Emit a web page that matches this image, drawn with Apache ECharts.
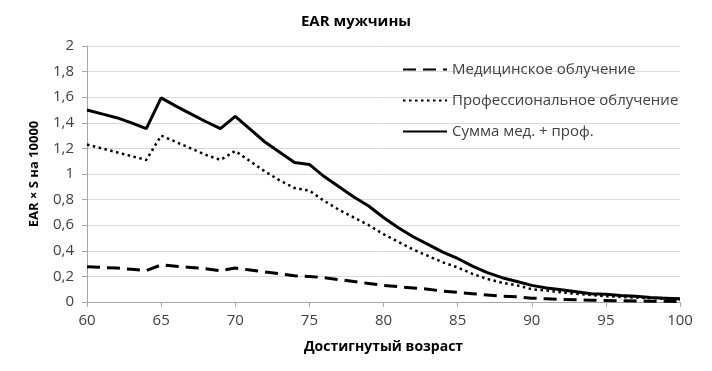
<!DOCTYPE html>
<html>
<head>
<meta charset="utf-8">
<script src="https://cdn.jsdelivr.net/npm/echarts@6/dist/echarts.min.js"></script>
<style>
  html, body { margin: 0; padding: 0; background: #fff; }
  #chart { width: 712px; height: 371px; }
</style>
</head>
<body>
<div id="chart"></div>
<script>
const ages = [60, 61, 62, 63, 64, 65, 66, 67, 68, 69, 70, 71, 72, 73, 74, 75, 76, 77, 78, 79, 80,
  81, 82, 83, 84, 85, 86, 87, 88, 89, 90, 91, 92, 93, 94, 95, 96, 97, 98, 99, 100]
const medValues = [0.275, 0.27, 0.265, 0.255, 0.245, 0.29, 0.28, 0.27, 0.26, 0.245, 0.265,
  0.25, 0.235, 0.22, 0.205, 0.2, 0.19, 0.175, 0.16, 0.145, 0.13,
  0.12, 0.11, 0.1, 0.085, 0.075, 0.065, 0.055, 0.045, 0.04, 0.03,
  0.025, 0.02, 0.017, 0.014, 0.012, 0.01, 0.008, 0.006, 0.005, 0.004]
const profValues = [1.23, 1.2, 1.17, 1.14, 1.11, 1.3, 1.25, 1.2, 1.15, 1.11, 1.18,
  1.1, 1.02, 0.95, 0.89, 0.87, 0.79, 0.72, 0.66, 0.6, 0.53,
  0.47, 0.41, 0.36, 0.31, 0.27, 0.22, 0.18, 0.15, 0.13, 0.1,
  0.09, 0.075, 0.065, 0.055, 0.045, 0.04, 0.035, 0.03, 0.025, 0.02]
const sumValues = [1.5, 1.47, 1.44, 1.4, 1.355, 1.595, 1.53, 1.47, 1.41, 1.355, 1.45,
  1.35, 1.25, 1.17, 1.09, 1.075, 0.98, 0.9, 0.82, 0.75, 0.66,
  0.58, 0.51, 0.45, 0.39, 0.34, 0.28, 0.23, 0.19, 0.16, 0.13,
  0.11, 0.095, 0.08, 0.065, 0.06, 0.05, 0.045, 0.035, 0.03, 0.025]
const seriesNames = ['Медицинское облучение', 'Профессиональное облучение', 'Сумма мед. + проф.']

const font = 'Open Sans'
const pairs = (vals) => ages.map((a, i) => [a, vals[i]])

const myChart = echarts.init(document.getElementById('chart'))
myChart.setOption({
  animation: false,
  textStyle: { fontFamily: font },
  title: {
    text: 'EAR мужчины',
    left: 'center',
    top: 9,
    textStyle: { fontSize: 15, fontWeight: 'bold', color: '#000', fontFamily: font }
  },
  legend: {
    orient: 'vertical',
    left: 397,
    top: 57,
    itemWidth: 44,
    itemHeight: 16,
    itemGap: 16,
    data: seriesNames,
    itemStyle: { opacity: 0 },
    textStyle: { fontSize: 15, color: '#404040', fontFamily: font }
  },
  grid: { left: 87, right: 32, top: 46, bottom: 69 },
  xAxis: {
    type: 'value',
    min: 60,
    max: 100,
    interval: 5,
    name: 'Достигнутый возраст',
    nameLocation: 'middle',
    nameGap: 38,
    nameTextStyle: { fontSize: 14, fontWeight: 'bold', color: '#000', fontFamily: font },
    axisLine: { lineStyle: { color: '#a6a6a6' } },
    axisTick: { show: true, length: 5, lineStyle: { color: '#a6a6a6' } },
    axisLabel: { fontSize: 15, color: '#404040', margin: 11 },
    splitLine: { show: false }
  },
  yAxis: {
    type: 'value',
    min: 0,
    max: 2,
    interval: 0.2,
    name: 'EAR × S на 10000',
    nameLocation: 'middle',
    nameGap: 46,
    nameTextStyle: { fontSize: 13, fontWeight: 'bold', color: '#000', fontFamily: font },
    axisLine: { show: true, lineStyle: { color: '#a6a6a6' } },
    axisTick: { show: true, length: 5, lineStyle: { color: '#a6a6a6' } },
    axisLabel: {
      fontSize: 15,
      color: '#404040',
      margin: 13,
      formatter: (v) => String(Math.round(v * 10) / 10).replace('.', ',')
    },
    splitLine: { lineStyle: { color: '#d9d9d9' } }
  },
  series: [
    {
      name: seriesNames[0],
      type: 'line',
      symbol: 'none',
      data: pairs(medValues),
      lineStyle: { color: '#000', width: 3, type: [13, 7] },
      itemStyle: { color: '#000' }
    },
    {
      name: seriesNames[1],
      type: 'line',
      symbol: 'none',
      data: pairs(profValues),
      lineStyle: { color: '#000', width: 2.5, type: [2.5, 3.5] },
      itemStyle: { color: '#000' }
    },
    {
      name: seriesNames[2],
      type: 'line',
      symbol: 'none',
      data: pairs(sumValues),
      lineStyle: { color: '#000', width: 3 },
      itemStyle: { color: '#000' }
    }
  ]
})
</script>
</body>
</html>
